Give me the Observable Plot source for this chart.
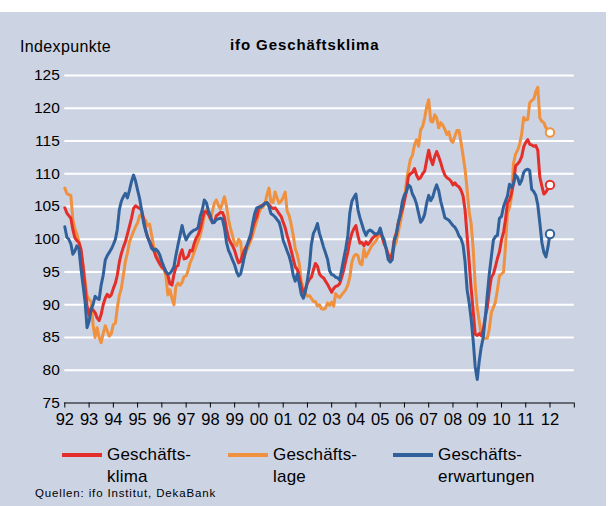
<!DOCTYPE html>
<html>
<head>
<meta charset="utf-8">
<script src="https://cdn.jsdelivr.net/npm/d3@7"></script>
<script src="https://cdn.jsdelivr.net/npm/@observablehq/plot@0.6"></script>
<style>
  html, body { margin: 0; padding: 0; background: #ffffff; }
  body { width: 612px; height: 506px; position: relative; overflow: hidden;
         font-family: "Liberation Sans", Arial, sans-serif; color: #000; }
  #panel { position: absolute; left: 0; top: 12px; width: 606px; height: 494px; background: #CCD3E3; }
  #chart { position: absolute; left: 0; top: 0; }
  .t { position: absolute; white-space: nowrap; line-height: 1; }
  .sw { position: absolute; height: 4px; }
</style>
</head>
<body>
<div id="panel"></div>
<div id="chart"></div>
<div class="t" style="left:20px;top:39px;font-size:16px;letter-spacing:0.35px;">Indexpunkte</div>
<div class="t" style="left:230px;top:37px;font-size:15px;font-weight:bold;letter-spacing:0.9px;">ifo Geschäftsklima</div>
<div id="legend"></div>
<div class="t" style="left:35px;top:488px;font-size:11.5px;letter-spacing:0.85px;">Quellen: ifo Institut, DekaBank</div>
<script>
// ---- data (monthly, Jan 1992 .. Jan 2012) ----
const startYear = 1992;
const klima = [
104.8,104.0,103.6,103.2,101.5,100.2,99.8,99.5,98.5,96.0,92.8,89.8,
88.4,89.5,89.2,88.8,88.0,87.6,88.5,90.0,91.0,91.6,91.2,91.5,
92.5,93.3,94.5,96.5,97.8,98.8,99.6,100.8,102.0,103.2,104.7,105.1,
104.9,104.7,104.5,103.1,101.5,100.3,99.7,99.0,98.4,97.4,96.8,96.2,
95.8,95.5,95.0,94.5,93.2,93.0,94.6,95.8,96.0,97.6,98.4,97.0,
97.1,97.4,98.3,98.2,99.3,100.2,100.7,101.6,103.0,104.2,104.2,103.8,
103.2,102.6,102.6,103.6,103.8,104.1,104.1,103.3,101.5,100.2,99.5,99.0,
98.3,97.2,96.4,96.6,97.7,98.4,99.0,99.6,100.4,101.8,102.8,103.5,
104.9,105.1,105.2,105.5,105.6,105.3,104.9,104.7,104.8,104.4,103.9,103.5,
102.6,101.7,100.6,99.5,98.3,97.0,95.8,95.4,94.3,92.8,91.9,92.3,
93.3,93.9,94.2,95.3,96.3,95.9,94.7,94.3,94.1,93.6,93.1,92.5,
91.9,92.5,92.8,92.9,93.2,94.2,95.3,96.7,98.0,99.7,100.9,101.6,
102.1,100.5,99.4,99.5,99.0,99.6,99.2,99.6,100.1,100.4,100.6,100.9,
101.2,100.3,99.3,98.6,97.6,96.9,97.8,100.0,101.0,102.6,103.6,104.6,
105.9,107.4,109.6,110.0,110.2,110.8,109.8,109.2,109.4,110.0,110.4,112.0,
113.6,112.2,111.4,112.6,113.4,112.6,111.7,110.6,109.8,109.4,109.2,108.9,
108.3,108.6,108.2,108.0,107.5,106.6,104.5,100.5,96.5,92.5,89.0,85.5,
85.3,85.6,85.3,86.2,88.1,89.6,92.1,94.2,94.7,95.8,97.1,98.1,
99.9,101.1,102.9,105.6,106.0,107.0,108.5,111.2,111.5,111.9,112.6,114.1,
114.8,115.2,114.5,114.4,114.2,114.3,113.6,109.5,108.1,106.9,107.2,107.7,
108.3
];
const lage = [
107.8,107.0,106.8,106.7,103.0,101.6,100.8,99.6,98.0,96.0,93.8,91.4,
90.8,90.5,87.0,85.0,86.5,85.0,84.2,85.6,86.8,86.0,85.2,85.6,
87.0,87.2,89.5,91.4,92.5,94.5,96.6,97.9,99.6,100.4,101.2,101.9,
102.5,103.6,103.8,103.2,102.9,102.1,102.3,100.6,98.8,97.8,97.0,96.5,
95.6,95.5,94.5,91.5,92.3,91.0,90.0,92.8,93.3,93.0,93.4,94.3,
94.4,95.3,96.4,97.1,98.0,98.9,99.7,100.6,101.9,103.5,104.5,104.0,
103.0,104.3,105.5,106.0,105.2,104.6,105.5,106.5,105.0,103.0,101.6,100.5,
99.3,99.0,100.0,99.6,96.5,97.5,98.3,99.0,99.8,100.7,101.8,102.8,
104.0,104.7,104.9,105.3,106.8,107.8,105.7,105.6,107.2,106.3,105.5,105.8,
106.4,107.2,104.3,103.6,102.3,100.6,98.6,97.7,96.2,93.5,92.6,91.8,
91.3,91.4,91.0,90.5,90.5,89.8,90.0,89.4,89.3,89.5,90.3,89.9,
90.4,89.8,91.7,91.3,91.1,91.5,91.9,92.3,93.0,94.2,96.5,97.4,
97.7,97.5,96.3,96.1,98.5,97.3,97.9,98.5,99.1,99.4,99.8,100.4,
100.8,100.3,99.5,98.7,97.7,97.5,97.9,98.8,99.7,101.2,102.6,104.2,
106.2,108.9,110.6,112.2,112.8,114.4,115.2,114.2,116.7,117.2,118.5,120.2,
121.3,118.0,117.9,119.0,118.5,117.0,117.8,117.4,116.8,116.0,116.4,115.1,
114.8,115.8,116.6,116.6,114.8,112.8,110.7,107.6,104.2,102.4,98.5,93.0,
89.5,87.4,85.5,84.9,84.9,84.9,86.3,88.8,89.6,90.4,92.3,94.4,
94.7,95.0,98.8,104.0,104.8,106.5,111.6,113.0,113.6,114.5,116.1,118.6,
118.2,118.3,120.8,121.2,121.4,122.5,123.2,118.5,118.0,117.8,117.0,116.7,
116.3
];
const erwartungen = [
101.9,100.3,100.0,99.3,97.7,98.2,99.0,98.5,95.5,93.0,90.5,86.5,
87.5,89.3,90.0,91.3,91.0,90.8,93.0,94.5,96.8,97.5,98.0,98.5,
99.2,100.0,101.5,104.5,105.8,106.5,107.0,106.3,107.5,108.8,109.8,108.9,
107.5,106.2,104.5,102.5,101.3,100.3,99.5,98.6,98.3,98.5,98.2,97.6,
96.6,95.8,95.1,94.7,94.8,95.2,95.8,97.6,99.2,100.6,102.1,100.8,
99.9,100.5,100.9,101.2,101.4,101.5,101.8,103.5,104.5,106.0,105.6,104.4,
103.6,102.5,102.6,103.0,103.1,103.2,103.1,101.7,99.5,98.3,97.6,96.8,
96.1,95.0,94.4,94.7,96.0,97.6,98.8,99.9,100.8,102.5,104.0,104.8,
104.9,104.9,105.2,105.5,105.6,105.0,103.9,103.7,103.4,103.0,102.6,101.5,
99.8,99.0,98.2,97.4,96.3,94.5,93.6,94.7,93.2,91.6,91.0,92.0,
93.8,96.0,99.2,100.9,101.5,102.4,100.9,99.9,98.8,97.9,96.9,95.2,
94.6,94.5,94.2,94.1,93.8,95.4,97.0,98.6,100.5,104.0,105.8,106.4,
106.9,104.5,103.3,102.3,101.3,100.6,101.2,101.4,101.2,100.9,100.8,100.9,
101.7,100.5,99.9,98.5,96.9,96.5,96.9,99.8,100.7,102.5,104.0,105.8,
106.8,107.3,108.3,108.0,106.9,106.3,105.4,104.0,102.6,103.0,103.8,105.5,
106.7,105.9,106.4,107.5,108.3,107.4,105.8,104.6,103.3,103.1,102.9,102.5,
102.1,101.8,101.3,100.5,100.1,99.1,96.6,92.3,90.3,87.8,84.5,80.5,
78.6,81.5,83.5,85.0,88.0,91.5,94.7,97.3,99.9,100.4,100.6,103.2,
103.5,105.0,105.8,106.6,108.4,107.9,108.5,109.8,109.4,108.4,109.0,110.2,
110.6,110.7,110.5,107.6,107.3,106.7,105.3,102.5,99.5,98.0,97.3,98.8,
100.8
];
const yearLabels = ["92","93","94","95","96","97","98","99","00","01","02",
                    "03","04","05","06","07","08","09","10","11","12"];
const yTicks = [75,80,85,90,95,100,105,110,115,120,125];
const seriesNames = ["Geschäftsklima","Geschäftslage","Geschäftserwartungen"];
const legendTop = ["Geschäfts-","Geschäfts-","Geschäfts-"];
const legendBottom = ["klima","lage","erwartungen"];
const colors = ["#E42E29","#F0913F","#30619B"];

// ---- build table ----
const seriesData = [klima, lage, erwartungen];
const rows = [];
seriesData.forEach((arr, k) => arr.forEach((v, i) =>
  rows.push({series: seriesNames[k], date: new Date(startYear, i, 1), value: v})));
const lastPts = seriesData.map((arr, k) => ({
  series: seriesNames[k], date: new Date(startYear, arr.length - 1, 1), value: arr[arr.length - 1]}));
const yearTicks = d3.range(startYear, startYear + yearLabels.length + 1).map(y => new Date(y, 0, 1));
const colorOf = s => colors[seriesNames.indexOf(s)];

const drawOrder = [1, 0, 2]; // Lage, Klima, Erwartungen on top
const chart = Plot.plot({
  width: 612,
  height: 440,
  marginLeft: 64.3,
  marginRight: 38.2,
  marginTop: 75,
  marginBottom: 37.5,
  style: {background: "transparent", fontFamily: "'Liberation Sans', Arial, sans-serif", fontSize: "15px", color: "#000", overflow: "visible"},
  x: {type: "time", domain: [new Date(startYear, 0, 1), new Date(startYear + yearLabels.length, 0, 1)], label: null},
  y: {domain: [75, 125], label: null},
  marks: [
    Plot.ruleY(yTicks.filter(t => t > 75), {stroke: "#ffffff", strokeWidth: 2}),
    Plot.axisY({ticks: yTicks, tickSize: 0, tickPadding: 5, fontSize: 15.5, label: null}),
    Plot.axisX({ticks: yearTicks, tickSize: 5, tickPadding: 5, fontSize: 16.5, label: null,
      tickFormat: d => yearLabels[d.getFullYear() - startYear] ?? ""}),
    Plot.ruleY([75], {stroke: "#000", strokeWidth: 1}),
    ...drawOrder.map(k => Plot.line(rows.filter(r => r.series === seriesNames[k]),
      {x: "date", y: "value", stroke: colors[k], strokeWidth: 3, curve: "linear"})),
    Plot.dot(lastPts, {x: "date", y: "value", r: 4.2, fill: "#ffffff", stroke: d => colorOf(d.series), strokeWidth: 2})
  ]
});
document.getElementById("chart").appendChild(chart);

// ---- legend ----
const legend = document.getElementById("legend");
const legendX = [62, 228, 393];
seriesNames.forEach((s, k) => {
  const sw = document.createElement("div");
  sw.className = "sw";
  sw.style.left = legendX[k] + "px";
  sw.style.top = "453px";
  sw.style.width = "40px";
  sw.style.background = colors[k];
  legend.appendChild(sw);
  const t1 = document.createElement("div");
  t1.className = "t";
  t1.style.cssText = `left:${legendX[k] + 45}px;top:446px;font-size:17px;letter-spacing:0.2px;`;
  t1.textContent = legendTop[k];
  legend.appendChild(t1);
  const t2 = document.createElement("div");
  t2.className = "t";
  t2.style.cssText = `left:${legendX[k] + 45}px;top:468px;font-size:17px;letter-spacing:0.2px;`;
  t2.textContent = legendBottom[k];
  legend.appendChild(t2);
});
</script>
</body>
</html>
